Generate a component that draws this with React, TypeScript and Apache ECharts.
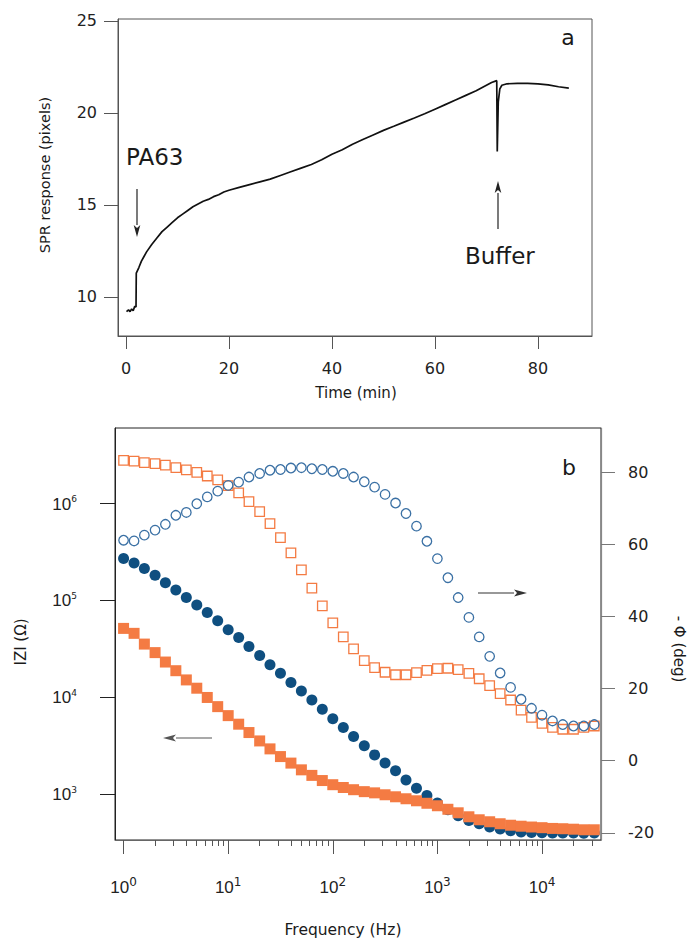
import React, { useEffect, useRef } from "react";
import * as echarts from "echarts";

// ---------- Panel a: SPR response vs time ----------
const timeMin = [0.1, 0.5, 0.8, 1.1, 1.4, 1.7, 1.95, 2.0, 2.5, 3, 3.5, 4, 5, 6, 7, 8, 9, 10, 11, 12, 13, 14, 15, 16, 17, 18, 19, 20, 22, 24, 26, 28, 30, 32, 34, 36, 38, 40, 42, 44, 46, 48, 50, 52, 54, 56, 58, 60, 62, 64, 66, 68, 70, 71, 72, 72.1, 72.3, 72.6, 73, 74, 76, 78, 80, 82, 84, 86];
const sprPixels = [9.2, 9.3, 9.2, 9.35, 9.25, 9.5, 9.45, 11.3, 11.6, 11.95, 12.2, 12.45, 12.85, 13.2, 13.55, 13.8, 14.05, 14.3, 14.5, 14.7, 14.9, 15.05, 15.2, 15.3, 15.45, 15.55, 15.7, 15.8, 15.95, 16.1, 16.25, 16.4, 16.6, 16.8, 17.0, 17.2, 17.45, 17.75, 18.0, 18.3, 18.55, 18.8, 19.05, 19.27, 19.5, 19.72, 19.95, 20.2, 20.45, 20.7, 20.95, 21.2, 21.5, 21.65, 21.75, 17.9, 20.6, 21.3, 21.5, 21.58, 21.6, 21.6, 21.58, 21.52, 21.42, 21.35];
const topXTicks = [0, 20, 40, 60, 80];
const topYTicks = [10, 15, 20, 25];

// ---------- Panel b: impedance spectra ----------
const freqHz = [1, 1.26, 1.58, 2, 2.51, 3.16, 3.98, 5.01, 6.31, 7.94, 10, 12.6, 15.8, 20, 25.1, 31.6, 39.8, 50.1, 63.1, 79.4, 100, 126, 158, 200, 251, 316, 398, 501, 631, 794, 1000, 1260, 1580, 2000, 2510, 3160, 3980, 5010, 6310, 7940, 10000, 12600, 15800, 20000, 25100, 31600];
const zBlue = [271000, 244000, 214000, 182000, 152000, 128000, 107000, 89500, 75200, 61700, 49800, 41300, 33500, 27000, 21700, 17700, 14200, 11600, 9380, 7520, 6010, 4860, 3930, 3150, 2540, 2090, 1740, 1400, 1150, 968, 807, 689, 597, 535, 494, 457, 436, 419, 406, 402, 398, 397, 396, 396, 395, 396];
const zOrange = [51400, 45700, 35400, 28900, 23100, 18800, 15100, 12400, 9950, 8000, 6460, 5270, 4320, 3540, 2930, 2440, 2090, 1780, 1560, 1380, 1250, 1170, 1110, 1060, 1030, 984, 938, 895, 853, 804, 758, 697, 641, 583, 543, 518, 494, 477, 466, 457, 450, 442, 439, 434, 428, 428];
const phaseBlue = [61.1, 60.9, 62.5, 63.9, 65.5, 68.0, 68.8, 71.2, 73.1, 74.7, 76.3, 77.2, 78.6, 79.6, 80.5, 80.7, 81.1, 81.2, 80.9, 80.7, 80.2, 79.6, 78.6, 77.3, 75.8, 73.8, 71.4, 68.5, 65.0, 60.8, 56.0, 50.7, 45.2, 39.7, 34.3, 28.9, 24.3, 20.3, 17.0, 14.5, 12.6, 11.0, 10.0, 9.6, 9.6, 10.0];
const phaseOrange = [83.2, 83.0, 82.6, 82.3, 81.9, 81.2, 80.6, 79.9, 78.9, 77.8, 76.2, 74.2, 71.8, 69.0, 65.7, 61.8, 57.6, 52.9, 47.8, 42.9, 38.2, 34.3, 31.0, 27.7, 25.8, 24.5, 23.8, 23.8, 24.4, 25.0, 25.5, 25.6, 25.2, 24.2, 22.7, 20.8, 18.6, 16.8, 14.0, 12.0, 10.3, 9.2, 8.7, 8.7, 9.2, 9.6];
const freqMajorTicks = [1, 10, 100, 1000, 10000];
const freqMinorTicks = [2, 3, 4, 5, 6, 7, 8, 9, 20, 30, 40, 50, 60, 70, 80, 90, 200, 300, 400, 500, 600, 700, 800, 900, 2000, 3000, 4000, 5000, 6000, 7000, 8000, 9000, 20000, 30000];
const zTicks = [1000, 10000, 100000, 1000000];
const phaseTicks = [-20, 0, 20, 40, 60, 80];

const FONT = "DejaVu Sans";
const NARROW = "'Liberation Sans Narrow', 'Liberation Sans', sans-serif";
const BLUE = "#0f4f80";
const BLUE_OPEN = "#3a70a4";
const ORANGE = "#f47b43";

function arrow(x1: number, y1: number, x2: number, y2: number, color: string, head = 12, half = 3.3) {
  const dx = x2 - x1, dy = y2 - y1;
  const len = Math.sqrt(dx * dx + dy * dy);
  const ux = dx / len, uy = dy / len;
  const bx = x2 - ux * head, by = y2 - uy * head;
  return [
    { type: "line", shape: { x1, y1, x2: bx, y2: by }, style: { stroke: color, lineWidth: 1.2 } },
    {
      type: "polygon",
      shape: { points: [[x2, y2], [bx - uy * half, by + ux * half], [bx + ux * 3, by + uy * 3], [bx + uy * half, by - ux * half]] },
      style: { fill: color },
    },
  ];
}

function text(x: number, y: number, t: string, size: number, rotation = 0, align = "center") {
  return {
    type: "text",
    x,
    y,
    rotation,
    style: { text: t, fontSize: size, fontFamily: FONT, fill: "#1a1a1a", align, verticalAlign: "middle" },
  };
}

export default function App() {
  const ref = useRef<HTMLDivElement>(null);
  useEffect(() => {
    if (!ref.current) return;
    const chart = echarts.init(ref.current, null, { renderer: "svg" });
    const supFmt = (v: number) => "{b|10}{s|" + Math.round(Math.log10(v)) + "}";
    const option: any = {
      animation: false,
      backgroundColor: "#ffffff",
      grid: [
        { left: 118, top: 19, width: 474, height: 317, show: true, borderColor: "#555", borderWidth: 1 },
        { left: 115, top: 428, width: 486, height: 412, show: true, borderColor: "#222", borderWidth: 1 },
      ],
      xAxis: [
        {
          gridIndex: 0, type: "value", min: -1.55, max: 90.5, position: "bottom",
          axisLine: { show: true, onZero: false, lineStyle: { color: "#555", width: 1 } },
          axisTick: { show: true, inside: false, length: 13, customValues: topXTicks, lineStyle: { color: "#555" } },
          axisLabel: { customValues: topXTicks, margin: 24, fontSize: 16, fontFamily: FONT, color: "#222" },
          splitLine: { show: false },
        },
        {
          gridIndex: 1, type: "log", logBase: 10, min: 0.828, max: 36640, position: "bottom",
          axisLine: { show: true, onZero: false, lineStyle: { color: "#666", width: 1 } },
          axisTick: { show: true, inside: false, length: 14, customValues: freqMajorTicks, lineStyle: { color: "#555" } },
          axisLabel: {
            customValues: freqMajorTicks, margin: 36, color: "#222", formatter: supFmt,
            rich: {
              b: { fontSize: 17, fontFamily: NARROW, color: "#222", lineHeight: 20, verticalAlign: "bottom" },
              s: { fontSize: 12, fontFamily: FONT, color: "#222", lineHeight: 12, verticalAlign: "top" },
            },
          },
          splitLine: { show: false },
          minorTick: { show: false },
        },
        {
          gridIndex: 1, type: "log", logBase: 10, min: 0.828, max: 36640, position: "bottom",
          axisLine: { show: false, onZero: false },
          axisTick: { show: true, inside: false, length: 6, customValues: freqMinorTicks, lineStyle: { color: "#555" } },
          axisLabel: { show: false },
          splitLine: { show: false },
        },
      ],
      yAxis: [
        {
          gridIndex: 0, type: "value", min: 7.88, max: 25.1, position: "left",
          axisLine: { show: true, onZero: false, lineStyle: { color: "#555", width: 1 } },
          axisTick: { show: true, inside: false, length: 14, customValues: topYTicks, lineStyle: { color: "#555" } },
          axisLabel: { customValues: topYTicks, margin: 21, fontSize: 16, fontFamily: FONT, color: "#222" },
          splitLine: { show: false },
        },
        {
          gridIndex: 1, type: "log", logBase: 10, min: 335.7, max: 6030000, position: "left",
          axisLine: { show: true, onZero: false, lineStyle: { color: "#222", width: 1 } },
          axisTick: { show: true, inside: false, length: 15, customValues: zTicks, lineStyle: { color: "#222" } },
          axisLabel: {
            customValues: zTicks, margin: 38, color: "#222", formatter: supFmt,
            rich: {
              b: { fontSize: 17, fontFamily: NARROW, color: "#222", lineHeight: 18, verticalAlign: "bottom" },
              s: { fontSize: 9, fontFamily: FONT, color: "#222", lineHeight: 12, verticalAlign: "top" },
            },
          },
          splitLine: { show: false },
          minorTick: { show: false },
        },
        {
          gridIndex: 1, type: "value", min: -22, max: 92.2, position: "right",
          axisLine: { show: true, onZero: false, lineStyle: { color: "#888", width: 1.2 } },
          axisTick: { show: true, inside: false, length: 14, customValues: phaseTicks, lineStyle: { color: "#777" } },
          axisLabel: { customValues: phaseTicks, margin: 27, fontSize: 16, fontFamily: FONT, color: "#222" },
          splitLine: { show: false },
        },
      ],
      series: [
        {
          type: "line", xAxisIndex: 0, yAxisIndex: 0, showSymbol: false, symbol: "none",
          data: timeMin.map((t, i) => [t, sprPixels[i]]),
          lineStyle: { color: "#111", width: 1.7 },
        },
        {
          type: "scatter", xAxisIndex: 1, yAxisIndex: 1, symbol: "circle", symbolSize: 11,
          data: freqHz.map((f, i) => [f, zBlue[i]]),
          itemStyle: { color: BLUE, opacity: 1 },
        },
        {
          type: "scatter", xAxisIndex: 1, yAxisIndex: 1, symbol: "rect", symbolSize: 11,
          data: freqHz.map((f, i) => [f, zOrange[i]]),
          itemStyle: { color: ORANGE, opacity: 1 },
        },
        {
          type: "scatter", xAxisIndex: 1, yAxisIndex: 2, symbol: "rect", symbolSize: 9.5,
          data: freqHz.map((f, i) => [f, phaseOrange[i]]),
          itemStyle: { color: "rgba(0,0,0,0)", borderColor: ORANGE, borderWidth: 1.3, opacity: 1 },
        },
        {
          type: "scatter", xAxisIndex: 1, yAxisIndex: 2, symbol: "circle", symbolSize: 9.5,
          data: freqHz.map((f, i) => [f, phaseBlue[i]]),
          itemStyle: { color: "rgba(0,0,0,0)", borderColor: BLUE_OPEN, borderWidth: 1.3, opacity: 1 },
        },
      ],
      graphic: [
        text(568, 37, "a", 22),
        text(126, 157, "PA63", 23, 0, "left"),
        text(465, 256, "Buffer", 23, 0, "left"),
        text(45, 175, "SPR response (pixels)", 14.5, Math.PI / 2),
        text(356, 393, "Time (min)", 15),
        ...arrow(137, 189, 137, 237, "#222"),
        ...arrow(498, 229, 498, 181, "#222"),
        text(569, 467, "b", 22),
        text(21, 642, "IZI (Ω)", 15, Math.PI / 2),
        text(679, 649, "- Φ (deg)", 15, -Math.PI / 2),
        text(343, 930, "Frequency (Hz)", 15.5),
        ...arrow(478, 593, 527, 593, "#333", 13, 3.5),
        ...arrow(212, 738, 163, 738, "#555", 13, 3.5),
      ],
    };
    chart.setOption(option);
    return () => chart.dispose();
  }, []);
  return <div ref={ref} style={{ position: "absolute", left: 0, top: 0, width: 689, height: 939 }} />;
}
